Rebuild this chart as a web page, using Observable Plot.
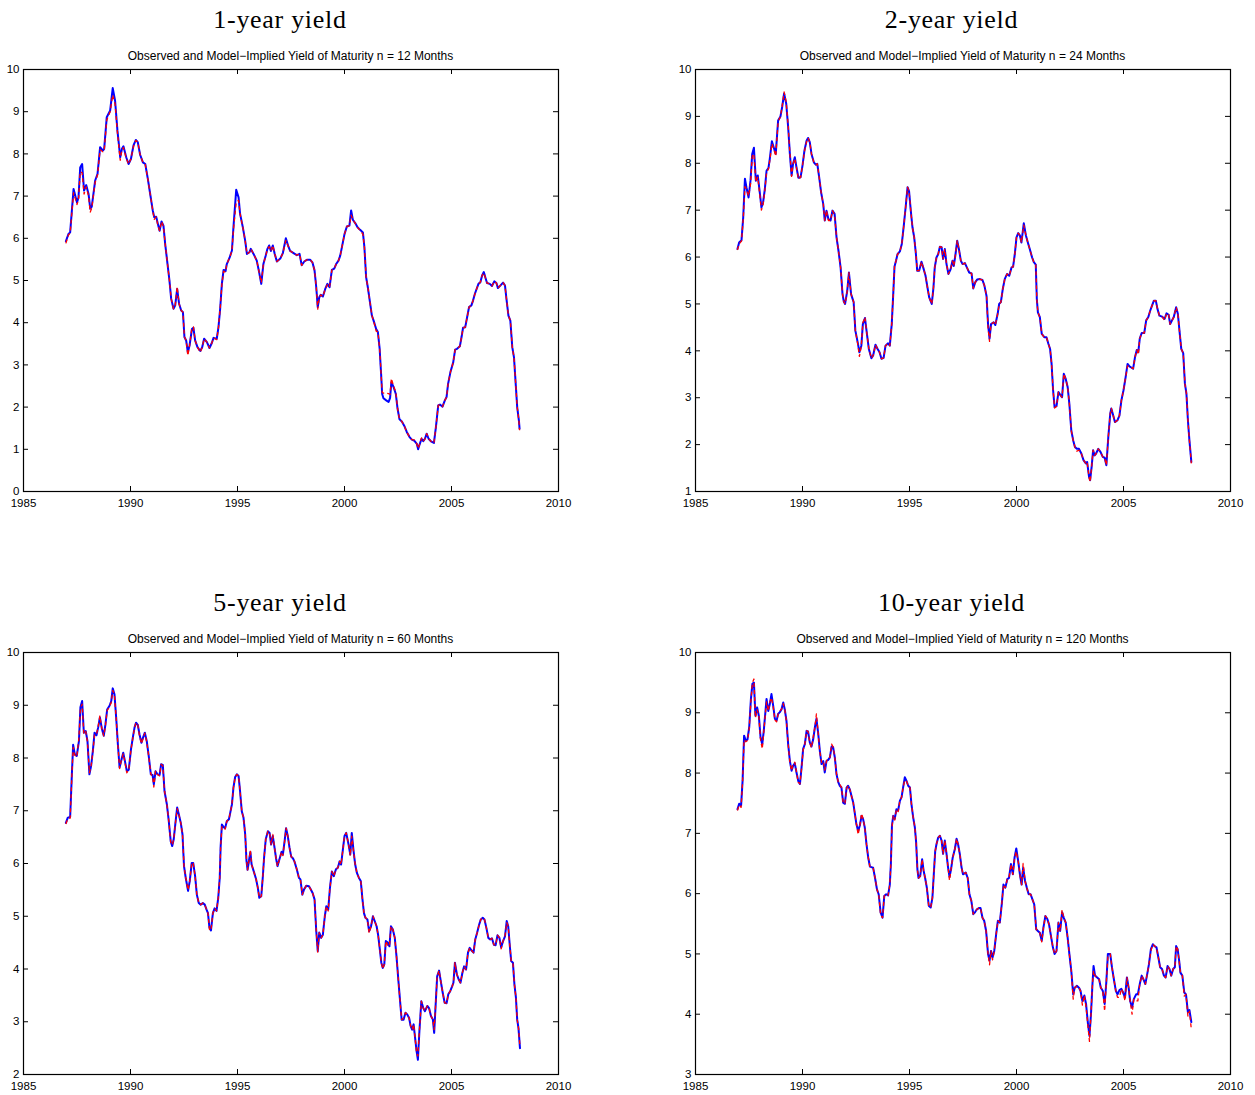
<!DOCTYPE html>
<html><head><meta charset="utf-8">
<script src="https://cdn.jsdelivr.net/npm/d3@7"></script>
<script src="https://cdn.jsdelivr.net/npm/@observablehq/plot@0.6"></script>
<style>
body{margin:0;background:#fff;width:1255px;height:1095px;position:relative;overflow:hidden;font-family:"Liberation Sans",Arial,sans-serif;}
.title{position:absolute;font-family:"Liberation Serif","Times New Roman",serif;font-size:26px;letter-spacing:0.7px;color:#000;white-space:nowrap;transform:translateX(-50%);line-height:26px;}
.sub{position:absolute;font-size:12px;color:#000;white-space:nowrap;transform:translateX(-50%);line-height:12px;}
.panel{position:absolute;}
.panel svg{max-width:none !important;}
.panel svg text{font-size:11.5px !important;font-family:"Liberation Sans",Arial,sans-serif !important;fill:#000;}
</style></head><body>
<script>
// ---------- data ----------
const xTicks = [1985, 1990, 1995, 2000, 2005, 2010];
const titles = ["1-year yield", "2-year yield", "5-year yield", "10-year yield"];
const maturities = [12, 24, 60, 120];
const yMins = [0, 1, 2, 3];

// 1-year yield
const t1 = [1986.98,1987.10,1987.18,1987.34,1987.50,1987.57,1987.65,1987.74,1987.83,1987.93,
1988.04,1988.12,1988.19,1988.35,1988.46,1988.58,1988.71,1988.77,1988.89,1989.05,
1989.17,1989.28,1989.39,1989.52,1989.60,1989.67,1989.80,1989.91,1990.02,1990.14,
1990.25,1990.34,1990.45,1990.58,1990.69,1990.81,1990.92,1991.04,1991.11,1991.20,
1991.28,1991.36,1991.45,1991.54,1991.62,1991.73,1991.82,1991.90,1992.01,1992.09,
1992.18,1992.27,1992.37,1992.45,1992.52,1992.60,1992.68,1992.76,1992.87,1992.94,
1993.02,1993.13,1993.26,1993.35,1993.44,1993.57,1993.69,1993.80,1993.88,1994.03,
1994.11,1994.19,1994.27,1994.35,1994.44,1994.50,1994.63,1994.74,1994.81,1994.94,
1995.05,1995.12,1995.25,1995.36,1995.44,1995.56,1995.62,1995.75,1995.90,1996.01,
1996.11,1996.21,1996.32,1996.40,1996.48,1996.56,1996.65,1996.74,1996.84,1997.00,
1997.12,1997.26,1997.38,1997.46,1997.62,1997.77,1997.90,1998.00,1998.12,1998.24,
1998.40,1998.50,1998.60,1998.68,1998.75,1998.82,1998.89,1998.99,1999.10,1999.20,
1999.30,1999.41,1999.52,1999.61,1999.72,1999.80,1999.88,2000.00,2000.11,2000.23,
2000.31,2000.39,2000.50,2000.61,2000.73,2000.86,2000.93,2001.01,2001.09,2001.20,
2001.28,2001.36,2001.48,2001.56,2001.64,2001.71,2001.76,2001.82,2001.95,2002.06,
2002.13,2002.19,2002.29,2002.40,2002.48,2002.57,2002.68,2002.79,2002.91,2003.04,
2003.15,2003.27,2003.38,2003.44,2003.52,2003.60,2003.68,2003.76,2003.84,2003.93,
2004.04,2004.18,2004.27,2004.38,2004.46,2004.58,2004.69,2004.77,2004.84,2004.95,
2005.08,2005.17,2005.26,2005.39,2005.47,2005.54,2005.64,2005.73,2005.82,2005.93,
2006.01,2006.09,2006.16,2006.26,2006.35,2006.43,2006.51,2006.60,2006.66,2006.79,
2006.89,2007.00,2007.10,2007.17,2007.28,2007.41,2007.50,2007.56,2007.66,2007.75,
2007.84,2007.92,2008.00,2008.07,2008.15,2008.18];
const obs1 = [5.93,6.10,6.14,7.17,6.85,6.97,7.68,7.76,7.13,7.26,
7.05,6.70,6.75,7.37,7.53,8.16,8.08,8.12,8.87,9.03,
9.56,9.26,8.55,7.92,8.12,8.18,7.92,7.76,7.88,8.20,
8.33,8.28,7.98,7.80,7.76,7.41,7.05,6.66,6.50,6.51,
6.34,6.18,6.40,6.30,5.87,5.39,5.00,4.57,4.33,4.41,
4.80,4.45,4.29,4.25,3.66,3.58,3.30,3.46,3.85,3.88,
3.58,3.42,3.33,3.42,3.62,3.54,3.40,3.52,3.64,3.62,
3.89,4.33,4.92,5.25,5.22,5.39,5.54,5.71,6.26,7.15,
6.97,6.58,6.26,5.94,5.63,5.67,5.75,5.63,5.47,5.20,
4.92,5.39,5.59,5.75,5.83,5.70,5.83,5.63,5.45,5.52,
5.65,6.00,5.80,5.70,5.65,5.60,5.63,5.36,5.45,5.49,
5.49,5.43,5.24,4.84,4.37,4.60,4.66,4.62,4.80,4.92,
4.84,5.25,5.28,5.39,5.47,5.59,5.79,6.10,6.28,6.30,
6.66,6.44,6.36,6.26,6.20,6.14,5.79,5.08,4.84,4.45,
4.17,4.05,3.85,3.78,3.40,2.79,2.31,2.21,2.16,2.12,
2.22,2.59,2.48,2.31,1.96,1.71,1.66,1.56,1.41,1.29,
1.23,1.20,1.13,1.00,1.13,1.25,1.19,1.25,1.37,1.25,
1.19,1.15,1.52,2.04,2.06,2.01,2.16,2.24,2.55,2.83,
3.06,3.36,3.38,3.44,3.66,3.88,3.89,4.13,4.37,4.41,
4.53,4.68,4.78,4.92,4.96,5.12,5.20,5.04,4.94,4.92,
4.87,4.98,4.94,4.82,4.88,4.95,4.88,4.60,4.17,4.05,
3.42,3.18,2.55,2.00,1.68,1.49];
const mod1 = [5.88,6.08,6.12,7.08,6.80,6.92,7.58,7.55,7.05,7.22,
7.00,6.62,6.72,7.33,7.50,8.10,8.05,8.08,8.80,9.00,
9.40,9.18,8.50,7.85,8.10,8.15,7.90,7.76,7.88,8.18,
8.32,8.28,7.98,7.80,7.75,7.40,7.05,6.66,6.45,6.51,
6.30,6.18,6.40,6.28,5.87,5.39,5.00,4.57,4.33,4.41,
4.85,4.45,4.29,4.25,3.66,3.58,3.22,3.46,3.88,3.90,
3.58,3.42,3.30,3.42,3.62,3.54,3.40,3.52,3.64,3.60,
3.89,4.33,4.90,5.22,5.20,5.39,5.54,5.70,6.20,6.85,
6.90,6.58,6.26,5.94,5.63,5.67,5.75,5.63,5.47,5.20,
4.95,5.39,5.59,5.75,5.80,5.70,5.83,5.63,5.45,5.52,
5.65,5.95,5.80,5.70,5.65,5.60,5.63,5.36,5.45,5.49,
5.49,5.43,5.24,4.84,4.32,4.60,4.66,4.62,4.80,4.90,
4.84,5.25,5.28,5.39,5.47,5.59,5.79,6.10,6.28,6.30,
6.55,6.44,6.36,6.26,6.18,6.10,5.79,5.08,4.84,4.45,
4.17,4.05,3.80,3.78,3.40,2.79,2.35,2.33,2.33,2.32,
2.30,2.68,2.50,2.35,1.96,1.71,1.66,1.56,1.41,1.29,
1.23,1.22,1.13,1.02,1.13,1.27,1.19,1.25,1.37,1.25,
1.19,1.15,1.52,2.04,2.06,2.01,2.16,2.24,2.55,2.83,
3.06,3.36,3.38,3.44,3.66,3.88,3.89,4.13,4.37,4.41,
4.53,4.68,4.78,4.92,4.96,5.12,5.18,5.04,4.94,4.92,
4.87,4.98,4.94,4.82,4.88,4.95,4.88,4.60,4.17,4.05,
3.42,3.18,2.55,2.00,1.68,1.45];

// 2-year yield
const t2 = [1986.96,1987.04,1987.15,1987.23,1987.31,1987.38,1987.48,1987.57,1987.65,1987.73,
1987.82,1987.91,1988.01,1988.08,1988.16,1988.24,1988.32,1988.41,1988.47,1988.57,
1988.66,1988.75,1988.86,1988.97,1989.05,1989.14,1989.24,1989.33,1989.41,1989.49,
1989.56,1989.64,1989.72,1989.81,1989.91,1990.00,1990.09,1990.19,1990.26,1990.34,
1990.42,1990.53,1990.62,1990.69,1990.78,1990.87,1990.97,1991.04,1991.12,1991.21,
1991.31,1991.40,1991.50,1991.59,1991.68,1991.78,1991.87,1991.93,1991.99,1992.09,
1992.17,1992.27,1992.39,1992.47,1992.58,1992.66,1992.75,1992.82,1992.92,1993.01,
1993.10,1993.22,1993.30,1993.41,1993.51,1993.60,1993.69,1993.79,1993.88,1994.00,
1994.08,1994.17,1994.24,1994.30,1994.37,1994.44,1994.55,1994.64,1994.74,1994.81,
1994.91,1994.98,1995.06,1995.14,1995.22,1995.30,1995.36,1995.45,1995.56,1995.64,
1995.75,1995.84,1995.92,1996.04,1996.12,1996.18,1996.26,1996.34,1996.42,1996.50,
1996.57,1996.65,1996.73,1996.82,1996.92,1997.01,1997.07,1997.15,1997.23,1997.31,
1997.40,1997.48,1997.59,1997.69,1997.79,1997.90,1997.98,1998.07,1998.16,1998.29,
1998.41,1998.50,1998.60,1998.67,1998.74,1998.81,1998.93,1999.01,1999.12,1999.19,
1999.27,1999.36,1999.45,1999.56,1999.66,1999.77,1999.84,1999.92,2000.00,2000.08,
2000.16,2000.23,2000.34,2000.44,2000.55,2000.62,2000.73,2000.81,2000.90,2000.95,
2001.00,2001.09,2001.18,2001.30,2001.40,2001.49,2001.57,2001.64,2001.71,2001.78,
2001.87,2001.96,2002.06,2002.13,2002.21,2002.30,2002.39,2002.47,2002.56,2002.65,
2002.73,2002.82,2002.92,2003.03,2003.13,2003.24,2003.30,2003.39,2003.44,2003.51,
2003.58,2003.65,2003.72,2003.82,2003.93,2004.03,2004.12,2004.20,2004.29,2004.38,
2004.43,2004.52,2004.60,2004.72,2004.81,2004.90,2005.00,2005.10,2005.19,2005.28,
2005.38,2005.45,2005.54,2005.62,2005.69,2005.76,2005.85,2005.97,2006.06,2006.16,
2006.25,2006.33,2006.42,2006.51,2006.59,2006.68,2006.80,2006.92,2007.01,2007.11,
2007.18,2007.28,2007.35,2007.46,2007.54,2007.63,2007.70,2007.79,2007.87,2007.94,
2008.01,2008.08,2008.17];
const obs2 = [6.17,6.31,6.36,6.85,7.67,7.49,7.27,7.63,8.20,8.33,
7.63,7.74,7.35,7.06,7.17,7.45,7.84,7.90,8.09,8.47,
8.33,8.20,8.91,9.00,9.20,9.49,9.27,8.77,8.20,7.74,
7.99,8.13,7.91,7.69,7.70,7.95,8.27,8.48,8.54,8.45,
8.20,8.02,7.97,7.99,7.70,7.38,7.13,6.78,6.99,6.81,
6.78,6.99,6.92,6.42,6.14,5.78,5.21,5.05,5.00,5.28,
5.67,5.21,5.04,4.43,4.18,3.97,4.11,4.57,4.70,4.36,
4.04,3.84,3.90,4.13,4.04,3.97,3.83,3.85,4.11,4.16,
4.11,4.57,5.21,5.80,5.92,6.06,6.12,6.28,6.70,7.02,
7.49,7.40,6.99,6.63,6.42,6.06,5.71,5.71,5.90,5.78,
5.60,5.35,5.14,5.00,5.35,5.78,5.99,6.06,6.22,6.21,
5.96,6.17,5.85,5.64,5.74,5.92,5.81,6.06,6.35,6.17,
5.92,5.85,5.87,5.77,5.67,5.65,5.33,5.46,5.52,5.53,
5.51,5.39,5.17,4.57,4.26,4.57,4.61,4.55,4.79,5.00,
5.04,5.32,5.53,5.64,5.60,5.78,5.79,6.06,6.42,6.51,
6.46,6.31,6.72,6.46,6.28,6.17,5.99,5.89,5.84,5.10,
4.82,4.72,4.36,4.29,4.29,4.15,4.04,3.72,3.16,2.80,
2.82,3.12,3.05,3.01,3.51,3.40,3.23,2.87,2.30,2.09,
1.95,1.91,1.91,1.81,1.67,1.60,1.63,1.31,1.24,1.52,
1.88,1.77,1.81,1.91,1.84,1.74,1.72,1.56,2.16,2.66,
2.77,2.62,2.48,2.52,2.62,2.94,3.16,3.44,3.72,3.67,
3.64,3.62,3.87,4.02,3.97,4.26,4.38,4.38,4.65,4.72,
4.86,4.96,5.07,5.07,4.89,4.75,4.73,4.68,4.80,4.77,
4.57,4.66,4.72,4.93,4.79,4.36,4.04,3.95,3.30,3.09,
2.52,2.09,1.63];
const mod2 = [6.15,6.28,6.34,6.80,7.50,7.45,7.30,7.55,8.15,8.20,
7.60,7.70,7.30,7.00,7.12,7.42,7.80,7.88,8.05,8.42,
8.30,8.15,8.88,9.00,9.22,9.52,9.30,8.80,8.22,7.72,
7.99,8.10,7.91,7.66,7.70,7.95,8.25,8.46,8.54,8.45,
8.20,8.02,7.97,7.99,7.70,7.38,7.13,6.78,6.99,6.78,
6.78,6.99,6.90,6.42,6.14,5.78,5.21,5.05,5.00,5.28,
5.67,5.21,5.04,4.43,4.15,3.88,4.11,4.60,4.72,4.36,
4.04,3.84,3.90,4.13,4.04,3.97,3.83,3.85,4.11,4.16,
4.11,4.57,5.21,5.80,5.92,6.06,6.12,6.28,6.70,7.02,
7.49,7.40,6.99,6.63,6.42,6.06,5.71,5.71,5.90,5.78,
5.60,5.35,5.14,5.00,5.35,5.78,5.99,6.06,6.22,6.21,
5.96,6.17,5.85,5.64,5.74,5.92,5.81,6.06,6.35,6.17,
5.92,5.85,5.87,5.77,5.67,5.65,5.33,5.46,5.52,5.53,
5.51,5.39,5.17,4.50,4.20,4.57,4.61,4.55,4.79,4.98,
5.04,5.32,5.53,5.64,5.60,5.78,5.79,6.06,6.42,6.51,
6.46,6.31,6.68,6.46,6.28,6.17,5.99,5.89,5.84,5.10,
4.82,4.72,4.36,4.29,4.29,4.15,4.04,3.72,3.16,2.78,
2.82,3.12,3.05,3.01,3.51,3.40,3.23,2.87,2.30,2.09,
1.95,1.86,1.88,1.81,1.67,1.60,1.63,1.31,1.20,1.52,
1.88,1.77,1.81,1.91,1.84,1.74,1.72,1.56,2.16,2.66,
2.77,2.62,2.48,2.52,2.62,2.94,3.16,3.44,3.68,3.67,
3.64,3.62,3.87,4.02,3.92,4.26,4.38,4.38,4.65,4.72,
4.86,4.96,5.07,5.07,4.89,4.75,4.73,4.65,4.80,4.77,
4.57,4.66,4.72,4.93,4.79,4.36,4.04,3.95,3.30,3.09,
2.52,2.09,1.60];

// 5-year yield
const t3 = [1986.98,1987.07,1987.18,1987.26,1987.32,1987.40,1987.49,1987.59,1987.66,1987.74,
1987.82,1987.91,1987.99,1988.08,1988.16,1988.24,1988.32,1988.41,1988.49,1988.57,
1988.66,1988.75,1988.83,1988.91,1989.02,1989.10,1989.17,1989.25,1989.33,1989.41,
1989.49,1989.58,1989.66,1989.74,1989.83,1989.92,1990.02,1990.11,1990.19,1990.26,
1990.34,1990.42,1990.51,1990.59,1990.67,1990.76,1990.86,1990.95,1991.03,1991.09,
1991.17,1991.26,1991.36,1991.43,1991.51,1991.59,1991.70,1991.79,1991.88,1991.95,
1992.02,1992.10,1992.18,1992.26,1992.35,1992.43,1992.50,1992.58,1992.69,1992.77,
1992.86,1992.93,1993.02,1993.10,1993.19,1993.28,1993.38,1993.47,1993.55,1993.62,
1993.69,1993.76,1993.85,1993.93,1994.02,1994.10,1994.17,1994.21,1994.27,1994.35,
1994.42,1994.50,1994.60,1994.66,1994.74,1994.81,1994.89,1994.97,1995.05,1995.12,
1995.20,1995.28,1995.36,1995.42,1995.47,1995.52,1995.60,1995.66,1995.76,1995.87,
1995.95,1996.02,1996.11,1996.18,1996.24,1996.32,1996.42,1996.50,1996.57,1996.65,
1996.73,1996.80,1996.87,1996.96,1997.06,1997.12,1997.20,1997.27,1997.35,1997.43,
1997.51,1997.59,1997.66,1997.77,1997.87,1997.94,1998.03,1998.11,1998.22,1998.34,
1998.42,1998.51,1998.60,1998.68,1998.75,1998.82,1998.91,1998.99,1999.08,1999.15,
1999.24,1999.32,1999.41,1999.50,1999.60,1999.69,1999.77,1999.84,1999.92,2000.00,
2000.08,2000.19,2000.27,2000.34,2000.42,2000.50,2000.58,2000.67,2000.76,2000.84,
2000.91,2000.98,2001.07,2001.15,2001.24,2001.33,2001.41,2001.50,2001.57,2001.66,
2001.72,2001.79,2001.86,2001.93,2002.02,2002.10,2002.17,2002.26,2002.35,2002.43,
2002.52,2002.61,2002.67,2002.76,2002.85,2002.93,2003.02,2003.09,2003.16,2003.23,
2003.30,2003.37,2003.43,2003.50,2003.59,2003.68,2003.76,2003.87,2003.95,2004.04,
2004.13,2004.19,2004.26,2004.33,2004.42,2004.51,2004.59,2004.68,2004.77,2004.85,
2004.94,2005.03,2005.09,2005.16,2005.25,2005.34,2005.42,2005.51,2005.59,2005.68,
2005.77,2005.85,2005.94,2006.03,2006.11,2006.20,2006.29,2006.37,2006.46,2006.54,
2006.63,2006.72,2006.81,2006.89,2006.98,2007.06,2007.15,2007.24,2007.32,2007.41,
2007.50,2007.58,2007.65,2007.72,2007.79,2007.87,2007.94,2008.01,2008.07,2008.13,
2008.20];
const obs3 = [6.77,6.87,6.88,7.69,8.25,8.07,8.04,8.32,8.96,9.08,
8.48,8.51,8.32,7.69,7.85,8.13,8.48,8.43,8.58,8.77,
8.56,8.42,8.64,8.92,8.99,9.08,9.32,9.21,8.77,8.26,
7.82,7.97,8.10,7.94,7.75,7.78,8.16,8.39,8.58,8.67,
8.63,8.45,8.29,8.39,8.48,8.32,8.01,7.69,7.68,7.50,
7.75,7.69,7.68,7.88,7.87,7.37,7.12,6.80,6.42,6.33,
6.46,6.77,7.06,6.93,6.77,6.55,5.95,5.73,5.48,5.67,
6.01,6.01,5.76,5.41,5.25,5.22,5.25,5.22,5.13,5.06,
4.78,4.73,5.06,5.15,5.10,5.35,5.73,6.30,6.74,6.69,
6.67,6.80,6.84,6.96,7.12,7.44,7.64,7.69,7.66,7.37,
6.99,6.87,6.55,6.05,5.88,6.01,6.22,5.98,5.85,5.70,
5.54,5.35,5.38,5.73,6.10,6.46,6.61,6.58,6.36,6.52,
6.30,6.10,5.95,6.08,6.22,6.17,6.42,6.67,6.52,6.30,
6.13,6.10,6.04,5.89,5.73,5.70,5.41,5.51,5.58,5.57,
5.51,5.44,5.32,4.72,4.34,4.69,4.59,4.65,5.00,5.19,
5.13,5.54,5.85,5.76,5.89,5.92,6.04,5.98,6.25,6.52,
6.58,6.36,6.17,6.58,6.25,5.98,5.82,5.73,5.67,5.32,
5.06,4.97,4.94,4.72,4.81,5.00,4.91,4.81,4.65,4.34,
4.12,4.02,4.09,4.53,4.50,4.43,4.81,4.75,4.59,4.24,
3.77,3.33,3.04,3.04,3.17,3.14,3.07,2.92,2.85,2.95,
2.69,2.44,2.28,2.82,3.39,3.26,3.20,3.30,3.26,3.11,
3.04,2.79,3.33,3.86,3.97,3.74,3.55,3.36,3.35,3.52,
3.58,3.67,3.74,4.12,3.90,3.80,3.74,3.93,4.05,3.99,
4.31,4.40,4.35,4.31,4.56,4.69,4.84,4.94,4.97,4.94,
4.78,4.59,4.56,4.58,4.46,4.45,4.64,4.59,4.41,4.53,
4.62,4.91,4.81,4.46,4.15,4.12,3.71,3.46,3.04,2.88,
2.50];
const mod3 = [6.75,6.85,6.86,7.65,8.20,8.05,8.02,8.38,8.95,9.02,
8.45,8.50,8.30,7.72,7.85,8.10,8.45,8.45,8.60,8.80,
8.55,8.42,8.62,8.90,8.97,9.05,9.28,9.20,8.75,8.25,
7.80,7.97,8.08,7.92,7.72,7.78,8.15,8.38,8.58,8.67,
8.63,8.42,8.27,8.38,8.47,8.30,8.01,7.69,7.66,7.45,
7.75,7.69,7.66,7.88,7.85,7.37,7.12,6.80,6.40,6.35,
6.46,6.77,7.04,6.93,6.77,6.55,5.95,5.73,5.50,5.67,
6.01,6.01,5.76,5.41,5.25,5.22,5.25,5.22,5.13,5.06,
4.75,4.73,5.06,5.15,5.10,5.35,5.73,6.30,6.70,6.69,
6.65,6.80,6.84,6.96,7.12,7.44,7.64,7.69,7.66,7.37,
6.99,6.87,6.55,6.05,5.88,6.01,6.25,5.98,5.85,5.70,
5.54,5.35,5.38,5.73,6.10,6.46,6.61,6.58,6.36,6.55,
6.30,6.10,5.95,6.08,6.22,6.15,6.42,6.67,6.52,6.30,
6.13,6.10,6.04,5.89,5.73,5.70,5.41,5.51,5.58,5.57,
5.51,5.44,5.32,4.72,4.32,4.69,4.59,4.65,5.00,5.19,
5.10,5.54,5.85,5.76,5.89,5.92,6.04,5.98,6.25,6.52,
6.58,6.36,6.15,6.52,6.25,5.98,5.82,5.73,5.67,5.32,
5.06,4.97,4.94,4.68,4.81,5.00,4.91,4.81,4.65,4.34,
4.12,4.00,4.09,4.53,4.45,4.43,4.81,4.75,4.59,4.24,
3.77,3.33,3.04,3.07,3.17,3.14,3.07,2.92,2.85,2.95,
2.69,2.40,2.35,2.82,3.39,3.26,3.20,3.30,3.26,3.11,
3.04,2.85,3.33,3.86,3.97,3.74,3.55,3.36,3.35,3.52,
3.58,3.67,3.74,4.12,3.90,3.80,3.74,3.93,4.05,3.99,
4.31,4.40,4.35,4.31,4.56,4.69,4.84,4.94,4.97,4.94,
4.78,4.59,4.56,4.58,4.46,4.45,4.64,4.59,4.38,4.53,
4.62,4.88,4.81,4.46,4.15,4.12,3.71,3.46,3.04,2.88,
2.53];

// 10-year yield
const t4 = [1986.96,1987.04,1987.13,1987.20,1987.27,1987.35,1987.43,1987.51,1987.59,1987.66,
1987.73,1987.80,1987.88,1987.96,1988.04,1988.12,1988.19,1988.27,1988.32,1988.40,
1988.47,1988.55,1988.63,1988.71,1988.79,1988.86,1988.94,1989.02,1989.10,1989.17,
1989.25,1989.33,1989.41,1989.49,1989.56,1989.64,1989.72,1989.80,1989.88,1989.95,
1990.03,1990.11,1990.19,1990.26,1990.34,1990.42,1990.50,1990.58,1990.65,1990.73,
1990.81,1990.89,1990.97,1991.04,1991.12,1991.20,1991.28,1991.36,1991.43,1991.51,
1991.59,1991.67,1991.74,1991.82,1991.90,1991.98,1992.06,1992.13,1992.21,1992.29,
1992.37,1992.45,1992.52,1992.60,1992.68,1992.76,1992.83,1992.91,1992.99,1993.07,
1993.15,1993.22,1993.30,1993.39,1993.48,1993.56,1993.65,1993.74,1993.82,1993.91,
1994.00,1994.08,1994.13,1994.18,1994.24,1994.31,1994.39,1994.47,1994.55,1994.63,
1994.70,1994.78,1994.86,1994.94,1995.02,1995.09,1995.17,1995.25,1995.31,1995.37,
1995.42,1995.50,1995.59,1995.66,1995.73,1995.81,1995.90,1995.99,1996.07,1996.14,
1996.20,1996.26,1996.34,1996.42,1996.50,1996.57,1996.65,1996.73,1996.80,1996.87,
1996.94,1997.02,1997.12,1997.20,1997.27,1997.35,1997.43,1997.50,1997.63,1997.72,
1997.80,1997.89,1997.98,1998.06,1998.15,1998.24,1998.32,1998.41,1998.49,1998.58,
1998.67,1998.74,1998.81,1998.88,1998.96,1999.05,1999.13,1999.22,1999.31,1999.39,
1999.48,1999.57,1999.65,1999.74,1999.83,1999.91,1999.99,2000.09,2000.17,2000.24,
2000.31,2000.40,2000.48,2000.57,2000.66,2000.74,2000.83,2000.92,2001.00,2001.09,
2001.18,2001.26,2001.35,2001.44,2001.52,2001.61,2001.70,2001.78,2001.87,2001.96,
2002.04,2002.13,2002.21,2002.30,2002.39,2002.47,2002.56,2002.65,2002.72,2002.82,
2002.92,2002.99,2003.08,2003.17,2003.25,2003.34,2003.41,2003.48,2003.55,2003.60,
2003.67,2003.77,2003.86,2003.94,2004.03,2004.12,2004.20,2004.27,2004.38,2004.46,
2004.55,2004.64,2004.72,2004.81,2004.90,2004.98,2005.07,2005.16,2005.24,2005.31,
2005.40,2005.48,2005.59,2005.67,2005.76,2005.85,2005.93,2006.02,2006.11,2006.19,
2006.28,2006.37,2006.45,2006.54,2006.63,2006.71,2006.80,2006.89,2006.97,2007.06,
2007.15,2007.23,2007.32,2007.40,2007.46,2007.53,2007.60,2007.66,2007.75,2007.84,
2007.92,2008.01,2008.08,2008.17];
const obs4 = [7.40,7.49,7.46,7.87,8.62,8.54,8.56,8.76,9.23,9.48,
9.50,8.95,9.09,8.95,8.59,8.48,8.70,9.03,9.23,9.03,
9.14,9.31,9.12,8.90,8.87,8.98,9.01,9.06,9.17,9.06,
8.87,8.48,8.20,8.04,8.12,8.16,8.01,7.87,7.82,8.07,
8.40,8.48,8.70,8.69,8.51,8.44,8.56,8.76,8.90,8.67,
8.37,8.15,8.20,8.01,8.20,8.22,8.26,8.44,8.43,8.26,
7.98,7.85,7.79,7.76,7.51,7.49,7.76,7.79,7.73,7.62,
7.51,7.32,7.15,7.04,7.13,7.29,7.24,7.10,6.82,6.60,
6.45,6.44,6.43,6.26,6.07,5.99,5.69,5.60,5.96,5.99,
5.97,6.15,6.50,7.13,7.29,7.24,7.40,7.38,7.54,7.60,
7.76,7.93,7.87,7.79,7.76,7.49,7.27,7.10,6.85,6.40,
6.26,6.29,6.57,6.38,6.26,6.10,5.80,5.77,5.93,6.35,
6.70,6.82,6.93,6.96,6.88,6.66,6.88,6.66,6.44,6.28,
6.40,6.60,6.74,6.91,6.82,6.66,6.44,6.32,6.35,6.26,
5.99,5.88,5.66,5.69,5.74,5.76,5.76,5.60,5.55,5.38,
5.00,4.89,5.05,4.94,5.05,5.33,5.55,5.52,5.82,6.15,
6.10,6.24,6.26,6.49,6.32,6.60,6.75,6.51,6.29,6.15,
6.43,6.21,6.10,5.99,5.99,5.91,5.82,5.41,5.38,5.35,
5.22,5.44,5.63,5.58,5.49,5.30,5.11,5.00,5.05,5.52,
5.38,5.69,5.60,5.52,5.27,5.00,4.72,4.33,4.44,4.47,
4.44,4.39,4.22,4.31,4.17,3.84,3.64,4.00,4.50,4.80,
4.64,4.61,4.58,4.44,4.39,4.17,4.55,5.00,5.00,4.78,
4.58,4.39,4.33,4.40,4.42,4.36,4.28,4.61,4.44,4.22,
4.11,4.25,4.33,4.33,4.50,4.64,4.58,4.50,4.67,4.83,
5.08,5.16,5.13,5.11,4.94,4.78,4.75,4.64,4.61,4.80,
4.75,4.64,4.75,4.78,5.13,5.08,4.89,4.69,4.64,4.36,
4.33,4.03,4.07,3.87];
const mod4 = [7.38,7.47,7.43,7.85,8.55,8.52,8.54,8.74,9.20,9.50,
9.56,8.92,9.05,8.95,8.55,8.40,8.68,9.00,9.18,9.03,
9.18,9.25,9.10,8.88,8.85,8.98,9.03,9.06,9.15,9.06,
8.85,8.48,8.18,8.04,8.15,8.18,8.01,7.85,7.82,8.05,
8.38,8.48,8.70,8.69,8.50,8.42,8.60,8.76,8.98,8.67,
8.35,8.18,8.20,8.05,8.20,8.25,8.26,8.48,8.43,8.26,
7.98,7.85,7.82,7.76,7.51,7.49,7.74,7.79,7.73,7.62,
7.51,7.32,7.15,6.98,7.13,7.33,7.24,7.10,6.82,6.60,
6.45,6.44,6.43,6.26,6.07,5.99,5.65,5.60,5.96,5.99,
5.97,6.15,6.50,7.10,7.29,7.22,7.40,7.36,7.54,7.60,
7.76,7.88,7.87,7.79,7.76,7.49,7.27,7.10,6.85,6.40,
6.26,6.29,6.57,6.38,6.26,6.10,5.80,5.77,5.93,6.35,
6.70,6.82,6.93,6.96,6.88,6.66,6.88,6.66,6.44,6.22,
6.40,6.60,6.74,6.91,6.82,6.66,6.44,6.32,6.35,6.26,
5.99,5.88,5.66,5.69,5.74,5.76,5.76,5.60,5.55,5.38,
5.00,4.82,5.05,4.90,5.05,5.33,5.55,5.52,5.82,6.15,
6.10,6.24,6.26,6.49,6.32,6.60,6.70,6.51,6.29,6.15,
6.50,6.21,6.10,5.99,5.99,5.91,5.82,5.41,5.38,5.35,
5.20,5.44,5.63,5.58,5.49,5.30,5.11,5.00,5.05,5.52,
5.38,5.73,5.60,5.52,5.27,5.00,4.72,4.25,4.44,4.47,
4.44,4.39,4.15,4.31,4.12,3.80,3.55,4.00,4.50,4.72,
4.64,4.61,4.58,4.44,4.39,4.05,4.55,4.95,5.00,4.78,
4.58,4.39,4.28,4.28,4.42,4.36,4.22,4.61,4.44,4.22,
4.00,4.25,4.22,4.22,4.50,4.64,4.58,4.50,4.67,4.83,
5.05,5.16,5.13,5.11,4.94,4.78,4.75,4.64,4.61,4.80,
4.75,4.64,4.75,4.78,5.13,5.08,4.89,4.69,4.64,4.30,
4.33,3.97,4.05,3.75];

// ---------- layout ----------
const series = [[t1, obs1, mod1], [t2, obs2, mod2], [t3, obs3, mod3], [t4, obs4, mod4]];
series.forEach(([t, o, m], k) => {
  if (t.length !== o.length || t.length !== m.length)
    throw new Error(`panel ${k + 1}: lengths ${t.length}/${o.length}/${m.length}`);
});

const PW = 535, PH = 422, TICK = 5;
const ML = 30, MR = 24, MT = 10, MB = 30;

function makePanel(k) {
  const [t, obs, mod] = series[k];
  const yMin = yMins[k];
  const idx = d3.range(t.length);
  const yTicks = d3.range(yMin, 11);
  return Plot.plot({
    width: ML + PW + MR, height: MT + PH + MB,
    marginLeft: ML, marginRight: MR, marginTop: MT, marginBottom: MB,
    style: {fontFamily: "'Liberation Sans', Arial, sans-serif", fontSize: "11.5px", color: "#000", background: "transparent", overflow: "visible", maxWidth: "none"},
    x: {domain: [1985, 2010], ticks: xTicks, tickFormat: d => String(d), tickSize: 0, tickPadding: 7, label: null},
    y: {domain: [yMin, 10], ticks: yTicks, tickFormat: d => String(d), tickSize: 0, tickPadding: 4, label: null},
    marks: [
      Plot.line(idx, {x: i => t[i], y: i => obs[i], stroke: "#0000ff", strokeWidth: 2.0}),
      Plot.line(idx, {x: i => t[i], y: i => mod[i], stroke: "#ff0000", strokeWidth: 1.3, strokeDasharray: "4,3", strokeLinecap: "butt"}),
      Plot.tickX(xTicks, {x: d => d, insetBottom: PH - TICK, stroke: "#000", strokeWidth: 1}),
      Plot.tickX(xTicks, {x: d => d, insetTop: PH - TICK, stroke: "#000", strokeWidth: 1}),
      Plot.tickY(yTicks, {y: d => d, insetRight: PW - TICK, stroke: "#000", strokeWidth: 1}),
      Plot.tickY(yTicks, {y: d => d, insetLeft: PW - TICK, stroke: "#000", strokeWidth: 1}),
      Plot.frame({stroke: "#000", strokeWidth: 1.2})
    ]
  });
}

const plotLefts = [23, 695, 23, 695];
const plotTops = [69, 69, 652, 652];
const titleCenters = [280, 951.5, 280, 951.5];

for (let k = 0; k < 4; k++) {
  const wrap = document.createElement("div");
  wrap.className = "panel";
  wrap.style.left = (plotLefts[k] - ML) + "px";
  wrap.style.top = (plotTops[k] - MT) + "px";
  wrap.style.width = (ML + PW + MR) + "px";
  wrap.appendChild(makePanel(k));
  document.body.appendChild(wrap);

  const title = document.createElement("div");
  title.className = "title";
  title.textContent = titles[k];
  title.style.left = titleCenters[k] + "px";
  title.style.top = (plotTops[k] - 62) + "px";
  document.body.appendChild(title);

  const sub = document.createElement("div");
  sub.className = "sub";
  sub.textContent = `Observed and Model\u2212Implied Yield of Maturity n = ${maturities[k]} Months`;
  sub.style.left = (plotLefts[k] + PW / 2) + "px";
  sub.style.top = (plotTops[k] - 19) + "px";
  document.body.appendChild(sub);
}
</script>
</body></html>
